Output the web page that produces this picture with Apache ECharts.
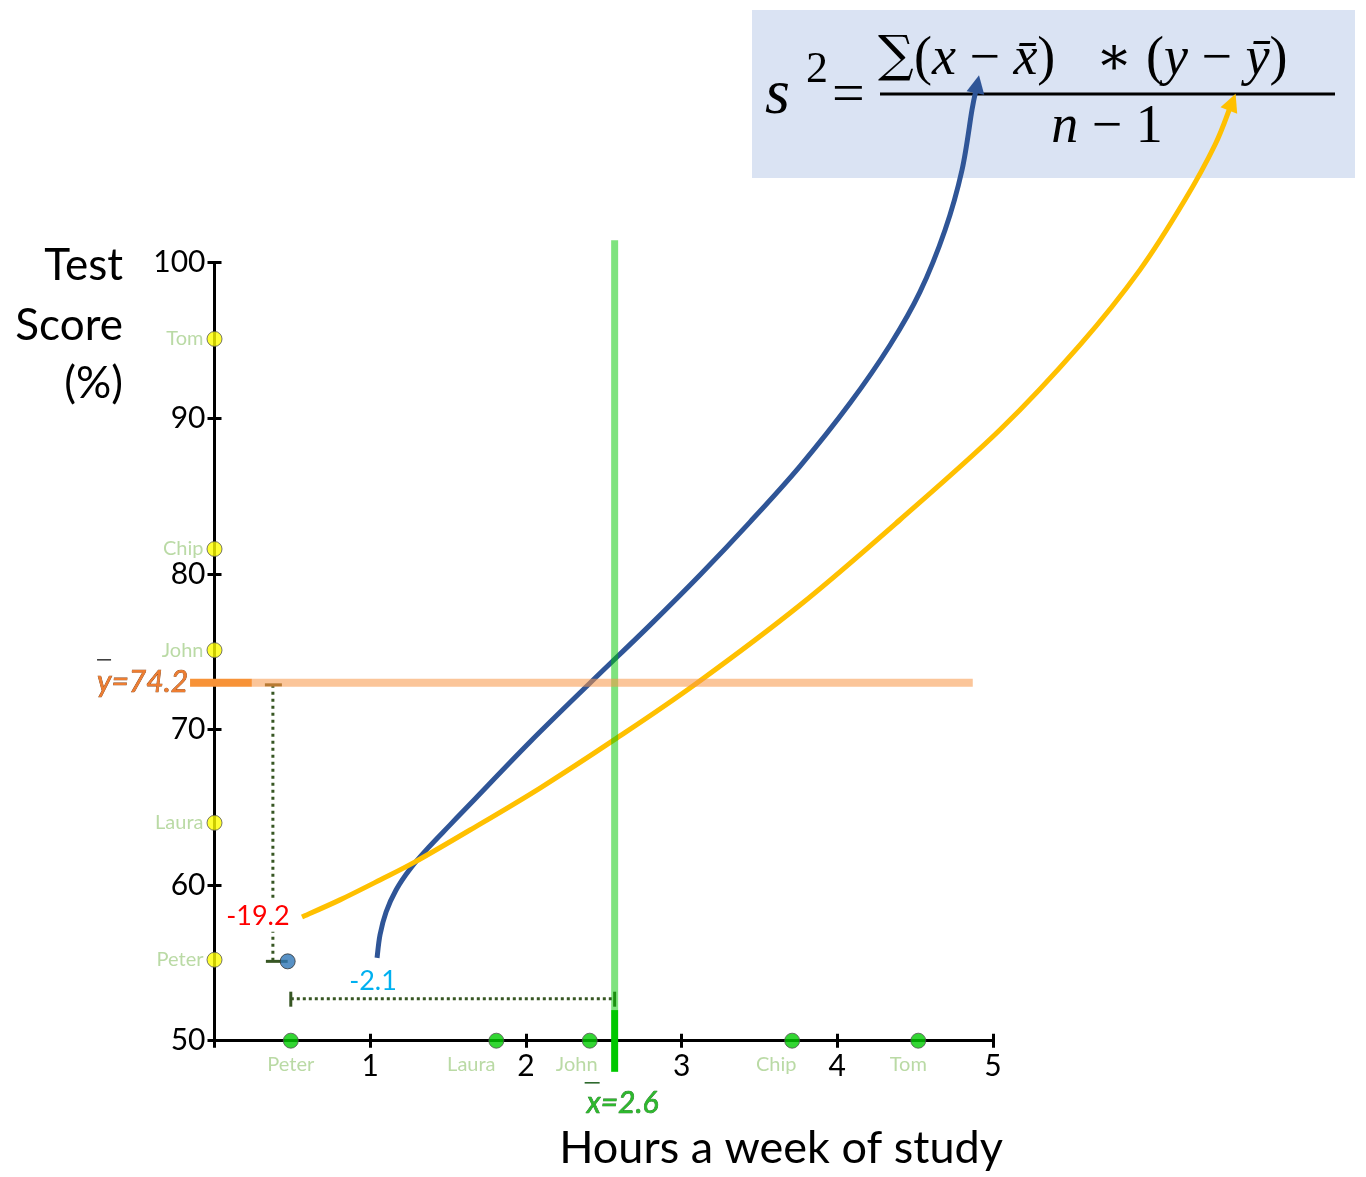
<!DOCTYPE html>
<html><head><meta charset="utf-8">
<script src="https://cdn.jsdelivr.net/npm/echarts@6/dist/echarts.min.js"></script>
<style>html,body{margin:0;padding:0;background:#fff}#c{width:1366px;height:1177px}</style>
</head><body><div id="c"></div>
<script>
// ---- data ----
const names = ['Peter', 'Laura', 'John', 'Chip', 'Tom'];
const hours = [0.49, 1.81, 2.41, 3.71, 4.52];
const scores = [55.2, 64.0, 75.1, 81.6, 95.1];
const xMeanLine = 2.57;       // where the mean-hours line is drawn
const yMeanLine = 73.0;       // where the mean-score line is drawn
const xMeanText = 'x=2.6';
const yMeanText = 'y=74.2';
const peterPoint = [0.47, 55.1];
const devXText = '-2.1';
const devYText = '-19.2';
const xTicks = [1, 2, 3, 4, 5];
const yTicks = [50, 60, 70, 80, 90, 100];
const devYLineX = 0.375;
const devXLineY = 52.7;
// annotation arrows (data space control points)
const blueArrow = [[1.044,55.32],[1.063,56.8],[1.102,58.27],[1.166,59.69],[1.256,61.04],[1.372,62.39],[1.513,63.87],[1.673,65.54],[2.026,69.2],[2.412,72.99],[2.797,76.71],[3.118,79.93],[3.439,83.33],[3.761,86.93],[4.082,90.98],[4.339,94.71],[4.531,98.12],[4.692,102.1],[4.801,105.96],[4.865,109.82],[4.891,111.1]];
const yellowArrow = [[0.562,57.95],[0.806,59.05],[1.063,60.33],[1.288,61.49],[1.641,63.54],[2.091,66.24],[2.566,69.33],[3.099,72.99],[3.761,78.0],[4.403,83.48],[5.045,89.26],[5.559,94.72],[5.944,99.54],[6.233,104.04],[6.426,107.58],[6.522,109.96]];

// ---- styling ----
const FONT = 'Lato';
const nameColor = '#a9d18e';
const xNameOffsets = [0, -25, -13, -16, -10];

const chart = echarts.init(document.getElementById('c'), null, {renderer: 'canvas'});

function smoothPath(pts) {
  let d = 'M' + pts[0][0] + ' ' + pts[0][1];
  for (let i = 0; i < pts.length - 1; i++) {
    const p0 = pts[i - 1] || pts[i], p1 = pts[i], p2 = pts[i + 1], p3 = pts[i + 2] || pts[i + 1];
    const c1 = [p1[0] + (p2[0] - p0[0]) / 6, p1[1] + (p2[1] - p0[1]) / 6];
    const c2 = [p2[0] - (p3[0] - p1[0]) / 6, p2[1] - (p3[1] - p1[1]) / 6];
    d += ' C' + c1[0] + ' ' + c1[1] + ' ' + c2[0] + ' ' + c2[1] + ' ' + p2[0] + ' ' + p2[1];
  }
  return d;
}

function arrowHead(pts, color) {
  const a = pts[pts.length - 2], b = pts[pts.length - 1];
  let dx = b[0] - a[0], dy = b[1] - a[1];
  const L = Math.hypot(dx, dy); dx /= L; dy /= L;
  const px = -dy, py = dx;
  const tip = [b[0] + dx * 15, b[1] + dy * 15];
  const base = [b[0] - dx * 3, b[1] - dy * 3];
  return {type: 'polygon', shape: {points: [tip, [base[0] + px * 9, base[1] + py * 9], [base[0] - px * 9, base[1] - py * 9]]}, style: {fill: color}};
}

function renderAnno(params, api) {
  const c = p => api.coord(p);
  const ch = [];
  const dot = '#375623';
  const bp = blueArrow.map(c), yp = yellowArrow.map(c);
  ch.push({type: 'path', shape: {pathData: smoothPath(bp)}, style: {stroke: '#2f5597', lineWidth: 5, fill: null}});
  ch.push(arrowHead(bp, '#2f5597'));
  ch.push({type: 'path', shape: {pathData: smoothPath(yp)}, style: {stroke: '#ffc000', lineWidth: 5, fill: null}});
  ch.push(arrowHead(yp, '#ffc000'));
  // score deviation dotted line
  const vTop = c([devYLineX, yMeanLine]), vBot = c([devYLineX, peterPoint[1]]);
  ch.push({type: 'line', shape: {x1: vTop[0], y1: vTop[1] + 2, x2: vBot[0], y2: vBot[1]}, style: {stroke: dot, lineWidth: 3, lineDash: [3, 4]}});
  ch.push({type: 'line', shape: {x1: vTop[0] - 8, y1: vTop[1] + 2, x2: vTop[0] + 9, y2: vTop[1] + 2}, style: {stroke: '#6b5a1e', lineWidth: 3}});
  const pp = c(peterPoint);
  ch.push({type: 'line', shape: {x1: vBot[0] - 7, y1: vBot[1], x2: pp[0], y2: vBot[1]}, style: {stroke: dot, lineWidth: 3}});
  // hours deviation dotted line
  const hL = c([hours[0], devXLineY]), hR = c([xMeanLine, devXLineY]);
  ch.push({type: 'line', shape: {x1: hL[0], y1: hL[1], x2: hR[0], y2: hR[1]}, style: {stroke: dot, lineWidth: 3, lineDash: [3, 3]}});
  ch.push({type: 'line', shape: {x1: hL[0], y1: hL[1] - 7, x2: hL[0], y2: hL[1] + 8}, style: {stroke: dot, lineWidth: 3}});
  ch.push({type: 'line', shape: {x1: hR[0], y1: hR[1] - 7, x2: hR[0], y2: hR[1] + 8}, style: {stroke: dot, lineWidth: 3}});
  // mean lines (semi transparent)
  const gT = c([xMeanLine, 101.45]), gM = c([xMeanLine, 51.97]), gB = c([xMeanLine, 48.0]);
  ch.push({type: 'line', shape: {x1: gT[0], y1: gT[1], x2: gM[0], y2: gM[1]}, style: {stroke: 'rgba(0,200,0,0.5)', lineWidth: 7}});
  ch.push({type: 'line', shape: {x1: gM[0], y1: gM[1], x2: gB[0], y2: gB[1]}, style: {stroke: '#00c800', lineWidth: 7}});
  const oL = c([-0.157, yMeanLine]), oM = c([0.24, yMeanLine]), oR = c([4.87, yMeanLine]);
  ch.push({type: 'line', shape: {x1: oM[0], y1: oM[1], x2: oR[0], y2: oR[1]}, style: {stroke: 'rgba(247,150,70,0.55)', lineWidth: 8}});
  ch.push({type: 'line', shape: {x1: oL[0], y1: oL[1], x2: oM[0], y2: oM[1]}, style: {stroke: '#f79237', lineWidth: 8}});
  // deviation labels
  ch.push({type: 'text', x: vTop[0] - 15, y: c([0, 58.0])[1], style: {text: devYText, fill: '#ff0000', font: '27px ' + FONT, align: 'center', verticalAlign: 'middle', backgroundColor: '#fff', padding: [2, 2]}});
  ch.push({type: 'text', x: c([1.018, 0])[0], y: hL[1] - 17, style: {text: devXText, fill: '#00b0f0', font: '27px ' + FONT, align: 'center', verticalAlign: 'middle'}});
  // mean labels
  ch.push({type: 'text', x: oL[0] - 2, y: oL[1], style: {text: yMeanText, fill: '#ed7d31', stroke: '#843c0c', lineWidth: 0.7, font: 'italic 30px ' + FONT, align: 'right', verticalAlign: 'middle'}});
  ch.push({type: 'line', shape: {x1: oL[0] - 93, y1: oL[1] - 23, x2: oL[0] - 79, y2: oL[1] - 23}, style: {stroke: '#333', lineWidth: 1.5}});
  ch.push({type: 'text', x: gB[0] + 8, y: gB[1] + 32, style: {text: xMeanText, fill: '#2db82d', stroke: '#1e6e1e', lineWidth: 0.7, font: 'italic 30px ' + FONT, align: 'center', verticalAlign: 'middle'}});
  ch.push({type: 'line', shape: {x1: gB[0] - 30, y1: gB[1] + 11, x2: gB[0] - 15, y2: gB[1] + 11}, style: {stroke: '#1e5e1e', lineWidth: 1.5}});
  return {type: 'group', children: ch};
}

const axisCommon = {
  axisLine: {show: true, lineStyle: {color: '#000', width: 3}},
  axisTick: {show: true, length: 7, lineStyle: {color: '#000', width: 3}},
  splitLine: {show: false}
};

const mathR = '54px "Liberation Serif", "DejaVu Serif"';
const mathI = 'italic 54px "Liberation Serif", "DejaVu Serif"';

const option = {
  animation: false,
  backgroundColor: '#fff',
  grid: {left: 214.5, top: 262.7, width: 778.5, height: 778, containLabel: false},
  xAxis: [
    Object.assign({type: 'value', min: 0, max: 5, interval: 1,
      axisLabel: {fontFamily: FONT, fontSize: 30, color: '#000', margin: 11,
        formatter: v => xTicks.includes(v) ? String(v) : ''}}, axisCommon),
    {type: 'value', min: 0, max: 5, interval: 1, position: 'bottom', axisLine: {show: false},
      axisTick: {show: true, inside: true, length: 7, lineStyle: {color: '#000', width: 3}}, axisLabel: {show: false}, splitLine: {show: false}}
  ],
  yAxis: [
    Object.assign({type: 'value', min: 50, max: 100, interval: 10,
      axisLabel: {fontFamily: FONT, fontSize: 30, color: '#000', margin: 9,
        formatter: v => yTicks.includes(v) ? String(v) : ''}}, axisCommon),
    {type: 'value', min: 50, max: 100, interval: 10, position: 'left', axisLine: {show: false},
      axisTick: {show: true, inside: true, length: 7, lineStyle: {color: '#000', width: 3}}, axisLabel: {show: false}, splitLine: {show: false}}
  ],
  graphic: [
    {type: 'rect', shape: {x: 752, y: 10, width: 603, height: 168}, style: {fill: '#dae3f3'}, z: -10},
    {type: 'text', x: 765, y: 96, style: {text: 's', font: 'italic 64px "Liberation Serif"', fill: '#000', verticalAlign: 'middle'}},
    {type: 'text', x: 806, y: 70, style: {text: '2', font: '44px "Liberation Serif"', fill: '#000', verticalAlign: 'middle'}},
    {type: 'text', x: 832, y: 97, style: {text: '=', font: '58px "Liberation Serif"', fill: '#000', verticalAlign: 'middle'}},
    {type: 'text', x: 878, y: 58, style: {text: '∑', font: '50px "DejaVu Serif"', fill: '#000', verticalAlign: 'middle'}},
    {type: 'text', x: 914, y: 60, style: {
      text: '{r|(}{i|x}{r| − }{i|x̄}{r|)   ∗ (}{i|y}{r| − }{i|ȳ}{r|)}',
      verticalAlign: 'middle',
      rich: {r: {font: mathR, fill: '#000'}, i: {font: mathI, fill: '#000'}}}},
    {type: 'line', shape: {x1: 880, y1: 94, x2: 1335, y2: 94}, style: {stroke: '#000', lineWidth: 3}},
    {type: 'text', x: 1107, y: 128, style: {
      text: '{i|n}{r| − 1}', align: 'center', verticalAlign: 'middle',
      rich: {r: {font: mathR, fill: '#000'}, i: {font: mathI, fill: '#000'}}}},
    {type: 'text', x: 123, y: 266, style: {text: 'Test', font: '44px ' + FONT, fill: '#000', align: 'right', verticalAlign: 'middle'}},
    {type: 'text', x: 123, y: 326, style: {text: 'Score', font: '44px ' + FONT, fill: '#000', align: 'right', verticalAlign: 'middle'}},
    {type: 'text', x: 123, y: 384, style: {text: '(%)', font: '44px ' + FONT, fill: '#000', align: 'right', verticalAlign: 'middle'}},
    {type: 'text', x: 781, y: 1148, style: {text: 'Hours a week of study', font: '45px ' + FONT, fill: '#000', align: 'center', verticalAlign: 'middle'}}
  ],
  series: [
    {type: 'custom', coordinateSystem: 'cartesian2d', xAxisIndex: 0, yAxisIndex: 0, clip: false, silent: true, z: 2,
      renderItem: renderAnno, data: [[0, 50]]},
    {type: 'scatter', xAxisIndex: 0, yAxisIndex: 0, symbolSize: 15, z: 5,
      itemStyle: {color: '#ffff00', borderColor: '#555', borderWidth: 1},
      label: {show: true, position: 'left', distance: 3, formatter: p => names[p.dataIndex], color: nameColor, fontFamily: FONT, fontSize: 20},
      data: scores.map(s => [0, s])},
    {type: 'scatter', xAxisIndex: 0, yAxisIndex: 0, symbolSize: 15, z: 5,
      itemStyle: {color: '#00cc00', borderColor: '#555', borderWidth: 1},
      data: hours.map((h, i) => ({value: [h, 50], label: {show: true, position: 'bottom', distance: 6, offset: [xNameOffsets[i], 0],
        formatter: names[i], color: nameColor, fontFamily: FONT, fontSize: 20}}))},
    {type: 'scatter', xAxisIndex: 0, yAxisIndex: 0, symbolSize: 15, z: 5,
      itemStyle: {color: '#2e75b6', borderColor: '#333', borderWidth: 1},
      data: [peterPoint]}
  ]
};
chart.setOption(option);
</script>
</body></html>
